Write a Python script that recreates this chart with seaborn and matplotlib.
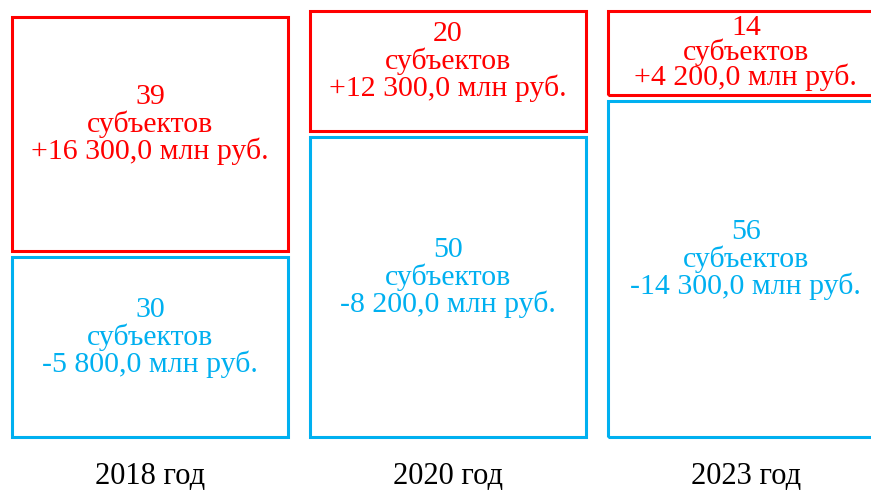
import numpy as np
import pandas as pd
import matplotlib.pyplot as plt
import seaborn as sns

# data
years = ["2018 год", "2020 год", "2023 год"]
plus_count = [39, 20, 14]
plus_sum = [16300.0, 12300.0, 4200.0]
minus_count = [30, 50, 56]
minus_sum = [-5800.0, -8200.0, -14300.0]

RED = "#FF0000"
BLUE = "#00B0F0"
GAP = 1.0
BAR_W = 0.926


def fmt_sum(v):
    sign = "+" if v > 0 else "-"
    s = f"{abs(v):,.1f}".replace(",", " ").replace(".", ",")
    return f"{sign}{s} млн руб."


def label(ax, x, bottom, height, count, total, color):
    # text sits a bit above the box centre when there is room for it,
    # small boxes get tighter lines so the label stays inside
    if height >= 20:
        shift, ls = 1.5, 1.0
    else:
        shift, ls = 0.0, 0.88
    ax.text(x, bottom + height / 2 + shift,
            f"{count}\nсубъектов\n{fmt_sum(total)}",
            ha="center", va="center", color=color, fontsize=21.5, linespacing=ls)


df = pd.DataFrame({"year": years, "plus": plus_count, "minus": minus_count})

sns.set_theme(style="white")
plt.rcParams["font.family"] = ["Liberation Serif", "DejaVu Serif"]

fig = plt.figure(figsize=(8.71, 4.91), dpi=100)
ax = fig.add_axes([0, 54 / 491, 1, 437 / 491])

sns.barplot(data=df, x="year", y="minus", fill=False, color=BLUE,
            linewidth=2.2, width=BAR_W, ax=ax)
red_bottom = np.array(minus_count) + GAP
ax.bar(range(len(years)), plus_count, bottom=red_bottom,
       width=BAR_W, fill=False, edgecolor=RED, linewidth=2.2)

for p in ax.patches:
    p.set_clip_on(False)

for i in range(len(years)):
    label(ax, i, 0, minus_count[i], minus_count[i], minus_sum[i], BLUE)
    label(ax, i, red_bottom[i], plus_count[i], plus_count[i], plus_sum[i], RED)

ax.set_xlim(-0.503, 2.42)
ax.set_ylim(0, 72.8)
ax.set_xlabel("")
ax.set_ylabel("")
ax.set_yticks([])
ax.tick_params(axis="x", length=0, pad=18, labelsize=22, labelcolor="black")
sns.despine(ax=ax, left=True, bottom=True)

fig.savefig("out.png", dpi=100)
